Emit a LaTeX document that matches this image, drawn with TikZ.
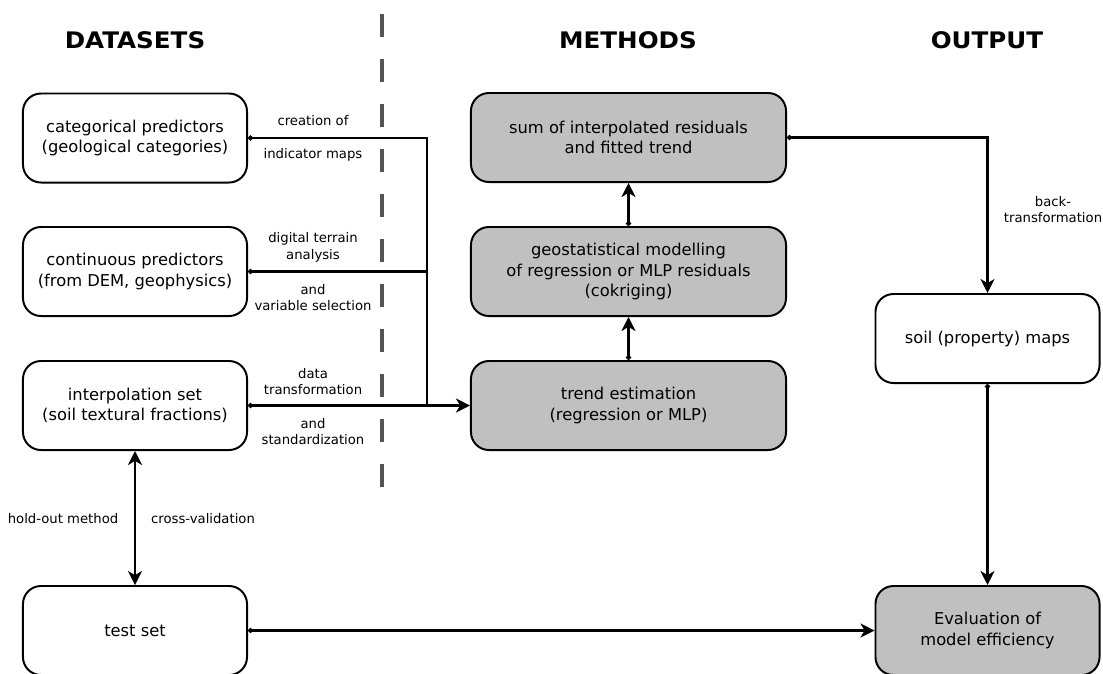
\documentclass[tikz,border=0pt]{standalone}
\usepackage{fontspec}
\setmainfont{DejaVu Sans}
\newfontfamily\headfont{DejaVu Sans}[FakeStretch=1.08]
\usetikzlibrary{arrows.meta}
\definecolor{boxgray}{HTML}{C0C0C0}
\definecolor{splitgray}{HTML}{555555}

\begin{document}
\begin{tikzpicture}[x=0.025cm,y=-0.025cm,
        databox/.style={rectangle,rounded corners=0.45cm,draw,line width=1.4pt,minimum width=5.6cm,minimum height=2.225cm,align=center,font=\fontsize{11.6}{14.6}\selectfont},
        methodbox/.style={databox,fill=boxgray,minimum width=7.875cm},
        link/.style={line width=1.5pt,{Circle[length=3.5pt]}-},
        linkarrow/.style={line width=1.5pt,{Circle[length=3.5pt]}-{Stealth[length=10pt,width=10pt,inset=3pt]}},
        twoway/.style={line width=1.5pt,{Stealth[length=10pt,width=10pt,inset=3pt]}-{Stealth[length=10pt,width=10pt,inset=3pt]}},
        note/.style={font=\fontsize{9.4}{11.8}\selectfont,align=center},
        heading/.style={font=\headfont\bfseries\fontsize{16.2}{19}\selectfont}]
        \useasboundingbox (0,0) rectangle (1103,673);

        % column titles
        \node[heading] (hdata) at (135,40) {DATASETS};
        \node[heading] (hmeth) at (628,40) {METHODS};
        \node[heading] (hout) at (987,40) {OUTPUT};
        \draw[splitgray,line width=3pt,dash pattern=on 0.575cm off 0.55cm] (382,14) -- (382,487);

        % datasets
        \node[databox] (cat) at (135,138) {categorical predictors\\(geological categories)};
        \node[databox] (cont) at (135,271.5) {continuous predictors\\(from DEM, geophysics)};
        \node[databox] (interp) at (135,405.5) {interpolation set\\(soil textural fractions)};
        \node[databox] (test) at (135,630.5) {test set};

        % methods
        \node[methodbox] (sum) at (628.5,137.5) {sum of interpolated residuals\\and fitted trend};
        \node[methodbox] (geo) at (628.5,271.5) {geostatistical modelling\\of regression or MLP residuals\\(cokriging)};
        \node[methodbox] (trend) at (628.5,405.5) {trend estimation\\(regression or MLP)};

        % output
        \node[databox] (maps) at (987.5,338.5) {soil (property) maps};
        \node[databox,fill=boxgray] (eval) at (987.5,630.5) {Evaluation of\\model efficiency};

        \coordinate (jn) at (427,405.5);
        \draw[link] (cat.east) -| (jn);
        \draw[link] (cont.east) -- (cont.east -| jn);
        \draw[linkarrow] (interp.east) -- (trend.west);
        \draw[linkarrow] (trend.north) -- (geo.south);
        \draw[linkarrow] (geo.north) -- (sum.south);
        \draw[linkarrow] (sum.east) -| (maps.north);
        \draw[linkarrow] (maps.south) -- (eval.north);
        \draw[linkarrow] (test.east) -- (eval.west);
        \draw[twoway] (interp.south) -- (test.north);

        % labels
        \node[note] (l1) at (313,121) {creation of};
        \node[note] (l2) at (313,154.5) {indicator maps};
        \node[note] (l3) at (313,247.5) {digital terrain\\analysis};
        \node[note] (l4) at (313,297.5) {and\\variable selection};
        \node[note] (l5) at (313,381.5) {data\\transformation};
        \node[note] (l6) at (313,431.5) {and\\standardization};
        \node[note] (l7) at (1053,209.5) {back-\\transformation};
        \node[note] (l8) at (63,519) {hold-out method};
        \node[note] (l9) at (203,519) {cross-validation};
\end{tikzpicture}
\end{document}
